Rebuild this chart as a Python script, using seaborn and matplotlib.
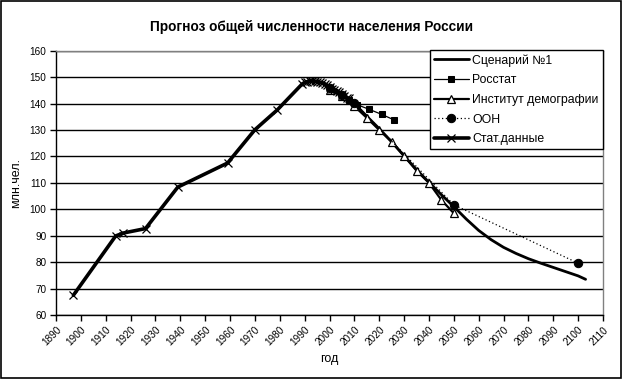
import numpy as np
import pandas as pd
import matplotlib
matplotlib.use("Agg")
import matplotlib.pyplot as plt
import seaborn as sns

# ---- data ----
stat_years = [1897, 1914, 1917, 1926, 1939, 1959, 1970, 1979, 1989, 1990, 1991, 1992,
              1993, 1994, 1995, 1996, 1997, 1998, 1999, 2000, 2001, 2002, 2003, 2004,
              2005, 2006, 2007, 2008]
stat_values = [67.5, 89.9, 91.0, 92.7, 108.4, 117.5, 130.1, 137.6, 147.4, 148.0, 148.3, 148.5,
               148.6, 148.4, 148.3, 148.0, 147.8, 147.5, 147.0, 146.3, 145.6, 145.2, 144.9, 144.2,
               143.5, 142.8, 142.2, 142.0]

scen_years = [2008, 2010, 2015, 2020, 2025, 2030, 2035, 2040, 2045, 2050, 2055, 2060,
              2065, 2070, 2075, 2080, 2085, 2090, 2095, 2100, 2103]
scen_values = [142.0, 140.0, 135.2, 130.5, 125.5, 120.2, 115.0, 110.2, 105.5, 101.0, 96.3, 92.0,
               88.5, 85.6, 83.3, 81.3, 79.6, 78.0, 76.4, 74.8, 73.5]

rosstat_years = [2008, 2011, 2016, 2021, 2026]
rosstat_values = [141.4, 139.6, 137.8, 135.9, 133.8]

inst_years = [2000, 2005, 2010, 2015, 2020, 2025, 2030, 2035, 2040, 2045, 2050]
inst_values = [145.0, 142.8, 139.0, 134.6, 130.0, 125.6, 120.2, 114.6, 110.0, 103.5, 98.5]

un_years = [2000, 2005, 2010, 2050, 2100]
un_values = [145.8, 143.2, 140.2, 101.7, 79.6]

x_ticks = list(range(1890, 2111, 10))
y_ticks = list(range(60, 161, 10))

title = "Прогноз общей численности населения России"
xlabel = "год"
ylabel = "млн.чел."
labels = ["Сценарий №1", "Росстат", "Институт демографии", "ООН", "Стат.данные"]

# ---- drawing ----
sns.set_style("white")
plt.rcParams['font.family'] = ['Liberation Sans', 'DejaVu Sans']
plt.rcParams['text.color'] = 'black'
plt.rcParams['axes.labelcolor'] = 'black'
plt.rcParams['xtick.color'] = 'black'
plt.rcParams['ytick.color'] = 'black'

fig = plt.figure(figsize=(6.23, 3.79), dpi=100)
ax = fig.add_axes([56/623, 1-315/379, (603-56)/623, (315-50.7)/379])

sns.lineplot(x=scen_years, y=scen_values, ax=ax, color='black', linewidth=2.0,
             label=labels[0], zorder=4)
sns.lineplot(x=rosstat_years, y=rosstat_values, ax=ax, color='black', linewidth=0.9,
             marker='s', markersize=5, markerfacecolor='black', markeredgecolor='black',
             label=labels[1], zorder=5)
sns.lineplot(x=inst_years, y=inst_values, ax=ax, color='black', linewidth=1.6,
             marker='^', markersize=5.5, markerfacecolor='white', markeredgecolor='black',
             markeredgewidth=0.9, label=labels[2], zorder=5)
sns.lineplot(x=un_years, y=un_values, ax=ax, color='black', linewidth=0.9,
             linestyle=(0, (1, 2)), marker='o', markersize=6, markerfacecolor='black',
             markeredgecolor='black', label=labels[3], zorder=5)
sns.lineplot(x=stat_years, y=stat_values, ax=ax, color='black', linewidth=2.6,
             marker='x', markersize=6, markeredgewidth=0.9, markeredgecolor='black',
             label=labels[4], zorder=6)

ax.set_xlim(1890, 2110)
ax.set_ylim(60, 160)
ax.set_xticks(x_ticks)
ax.set_yticks(y_ticks)
ax.set_xticklabels([str(t) for t in x_ticks], rotation=45, ha='right', fontsize=7.2,
                   rotation_mode='anchor')
ax.set_yticklabels([str(t) for t in y_ticks], fontsize=7.2)
ax.yaxis.grid(True, color='black', linewidth=1.0)
ax.xaxis.grid(False)
ax.tick_params(axis='both', direction='out', length=4, width=1, color='black', pad=3)
ax.tick_params(axis='x', bottom=True)
ax.tick_params(axis='y', left=True)
for side in ['left', 'bottom']:
    ax.spines[side].set_color('black')
    ax.spines[side].set_linewidth(1.0)
for side in ['right', 'top']:
    ax.spines[side].set_color('#808080')
    ax.spines[side].set_linewidth(1.0)

ax.set_xlabel(xlabel, fontsize=9, labelpad=4)
ax.set_ylabel(ylabel, fontsize=9, labelpad=5)
fig.suptitle(title, fontsize=9.8, fontweight='bold', x=0.5, y=1-27/379, va='center',
             color='black')

leg = ax.legend(loc='upper left', bbox_to_anchor=(430/623, 1-50/379),
                bbox_transform=fig.transFigure, fontsize=8.8, frameon=True,
                fancybox=False, framealpha=1, edgecolor='black', handlelength=2.8,
                handletextpad=0.3, borderpad=0.35, labelspacing=0.62, borderaxespad=0)
leg.get_frame().set_linewidth(1.0)

# figure border
fig.patches.append(plt.Rectangle((0.002, 0.003), 0.994, 0.994, transform=fig.transFigure,
                                 fill=False, edgecolor='black', linewidth=1.2))

fig.savefig("out.png", dpi=100)
